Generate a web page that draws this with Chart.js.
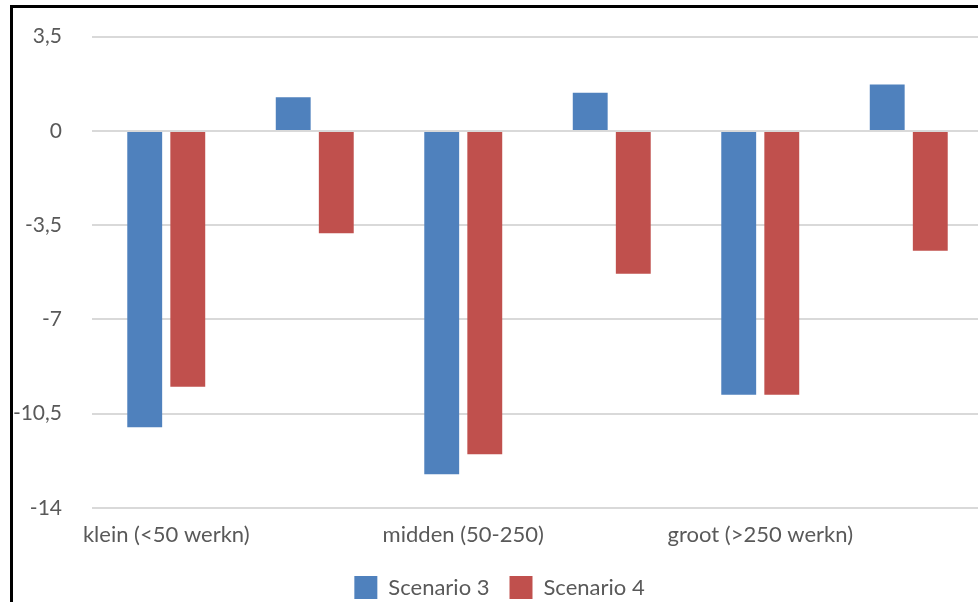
<!DOCTYPE html>
<html>
<head>
<meta charset="utf-8">
<script src="https://cdn.jsdelivr.net/npm/chart.js@4"></script>
<style>
    html, body { margin: 0; padding: 0; background: #fff; overflow: hidden; }
    #wrap { position: absolute; left: 0; top: -6px; width: 995px; height: 615px; }
    #frame {
        position: absolute; left: 10px; top: 5px; width: 1000px; height: 640px;
        border-left: 3px solid #000; border-top: 3px solid #000; pointer-events: none;
    }
</style>
</head>
<body>
<div id="wrap"><canvas id="chart"></canvas></div>
<div id="frame"></div>
<script>
// categories (Excel only printed every other label)
const categories = ['klein (<50 werkn)', '', 'midden (50-250)', '', 'groot (>250 werkn)', ''];
const scenario3 = [-11.0, 1.25, -12.75, 1.42, -9.8, 1.72];
const scenario4 = [-9.5, -3.8, -12.0, -5.3, -9.8, -4.45];
const yTicks = [3.5, 0, -3.5, -7, -10.5, -14];

const textColor = '#595959';
const fontFamily = 'Lato, "Open Sans", sans-serif';

// nudge the legend a bit to the right, like the original
const legendShift = {
    id: 'legendShift',
    afterLayout: function(chart) {
        if (chart.legend) {
            chart.legend.left += 8;
            chart.legend.right += 8;
        }
    }
};

new Chart(document.getElementById('chart').getContext('2d'), {
    type: 'bar',
    data: {
        labels: categories,
        datasets: [{
            label: 'Scenario 3',
            data: scenario3,
            backgroundColor: '#4F81BD',
            borderWidth: 0
        }, {
            label: 'Scenario 4',
            data: scenario4,
            backgroundColor: '#C0504D',
            borderWidth: 0
        }]
    },
    plugins: [legendShift],
    options: {
        responsive: true,
        maintainAspectRatio: false,
        animation: false,
        datasets: {
            bar: { categoryPercentage: 0.58, barPercentage: 0.81 }
        },
        layout: { padding: { top: 28, right: 12, left: 0, bottom: 0 } },
        scales: {
            x: {
                grid: { display: false, drawTicks: false },
                border: { display: false },
                ticks: {
                    color: textColor,
                    font: { family: fontFamily, size: 22 },
                    maxRotation: 0,
                    autoSkip: false,
                    padding: 14
                },
                afterFit: function(scale) { scale.height = 48; }
            },
            y: {
                min: -14,
                max: 3.5,
                afterBuildTicks: function(scale) {
                    scale.ticks = yTicks.map(v => ({ value: v }));
                },
                grid: { color: '#d9d9d9', lineWidth: 2, drawTicks: false },
                border: { display: false },
                ticks: {
                    color: textColor,
                    font: { family: fontFamily, size: 21 },
                    padding: 30,
                    callback: function(value) { return String(value).replace('.', ','); }
                },
                afterFit: function(scale) { scale.width = 92; }
            }
        },
        plugins: {
            legend: {
                position: 'bottom',
                labels: {
                    color: textColor,
                    font: { family: fontFamily, size: 22 },
                    boxWidth: 23,
                    boxHeight: 23,
                    padding: 20
                }
            },
            tooltip: { enabled: false }
        }
    }
});
</script>
</body>
</html>
